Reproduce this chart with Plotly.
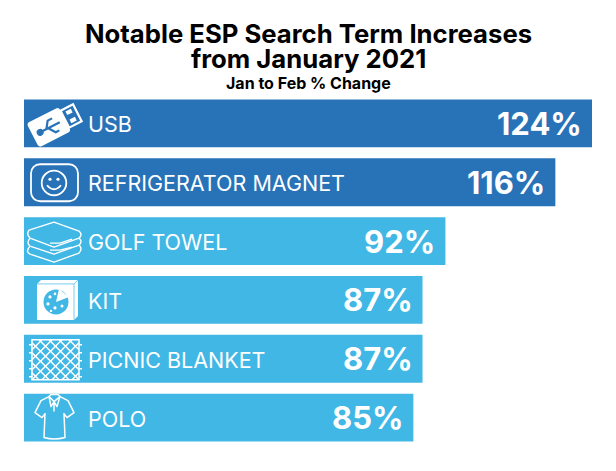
import base64
import plotly.graph_objects as go

terms = ["USB", "REFRIGERATOR MAGNET", "GOLF TOWEL", "KIT", "PICNIC BLANKET", "POLO"]
changes = [124, 116, 92, 87, 87, 85]
bar_colors = ["#2873B8", "#2873B8", "#40B7E4", "#40B7E4", "#40B7E4", "#40B7E4"]
title_lines = ["Notable ESP Search Term Increases", "from January 2021"]
subtitle = "Jan to Feb % Change"

FONT = "Inter"

# small white pictograms, 60x48 box sitting on the left of each bar
usb = """<g transform="rotate(-27 31.5 24.5)"><rect x="6" y="11" width="36" height="27" rx="3" fill="#fff"/>
<rect x="42" y="15" width="14" height="19" fill="none" stroke="#fff" stroke-width="2.2"/>
<rect x="46" y="18" width="6" height="4" fill="#fff"/><rect x="46" y="27" width="6" height="4" fill="#fff"/>
<path d="M12 25H36M21 25L26 18H31M23 25L28 32H32" fill="none" stroke="#2873B8" stroke-width="2.2"/>
<circle cx="14" cy="25" r="3.5" fill="#2873B8"/></g>"""
magnet = """<rect x="7" y="6" width="47" height="37" rx="9" fill="none" stroke="#fff" stroke-width="1.8"/>
<circle cx="30" cy="24.7" r="12.3" fill="none" stroke="#fff" stroke-width="1.8"/>
<circle cx="26" cy="21" r="1.6" fill="#fff"/><circle cx="34" cy="21" r="1.6" fill="#fff"/>
<path d="M23 27Q30 35 37 27" fill="none" stroke="#fff" stroke-width="1.8"/>"""
towel = """<g fill="none" stroke="#fff" stroke-width="1.4" stroke-linejoin="round">
<path d="M5 13L30 5L55 14Q59 18 55 21L30 30L6 21Q2 17 5 13Z"/>
<path d="M6 21Q2 26 6 29L30 37L55 28Q59 25 55 21"/>
<path d="M6 29Q1 35 6 37L30 45L55 36Q59 32 55 28"/>
<path d="M26 26H36L48 22M26 33H36L48 30"/></g>"""
kit = """<path d="M13 8L17 4H54V40L50 44H13Z" fill="#fff"/>
<path d="M50 8V44M13 8H50L54 4" stroke="#40B7E4" stroke-width="0.7" fill="none"/>
<circle cx="32" cy="26" r="12.5" fill="#40B7E4"/>
<path d="M32 26L35 13L45 21Z" fill="#fff"/>
<g fill="#fff"><circle cx="26" cy="21" r="1.6"/><circle cx="31" cy="18" r="1.3"/><circle cx="24" cy="28" r="1.6"/>
<circle cx="31" cy="32" r="1.6"/><circle cx="38" cy="30" r="1.5"/><circle cx="27" cy="35" r="1.2"/></g>"""
blanket = """<g fill="none" stroke="#fff" stroke-width="1.5"><rect x="8" y="5" width="47" height="40"/>
<path d="M8 15L18 5M8 25L28 5M8 35L38 5M8 45L48 5M18 45L55 8M28 45L55 18M38 45L55 28M48 45L55 38"/>
<path d="M55 15L45 5M55 25L35 5M55 35L25 5M55 45L15 5M45 45L8 8M35 45L8 18M25 45L8 28M15 45L8 38"/>
<path d="M5 10H8M5 18H8M5 26H8M5 34H8M5 42H8M55 10H58M55 18H58M55 26H58M55 34H58M55 42H58"/></g>"""
polo = """<g fill="none" stroke="#fff" stroke-width="1.5" stroke-linejoin="round">
<path d="M25 3L17 7L11 19L18 24L21 20L20 44Q30 47 41 44L40 20L43 24L50 19L44 7L36 3"/>
<path d="M25 3L30 8L36 3L34 1H27ZM25 3L27 13L30 8L33 13L36 3M30 8V18"/></g>"""
icons = [usb, magnet, towel, kit, blanket, polo]


def icon_uri(body):
    svg = f'<svg xmlns="http://www.w3.org/2000/svg" viewBox="0 0 60 48" width="240" height="192">{body}</svg>'
    return "data:image/svg+xml;base64," + base64.b64encode(svg.encode()).decode()


fig = go.Figure(go.Bar(
    x=changes, y=terms, orientation="h",
    marker=dict(color=bar_colors, line_width=0),
    hoverinfo="skip",
))

for term, change, icon in zip(terms, changes, icons):
    fig.add_annotation(x=0, y=term, text=term, xanchor="left", xshift=62, yshift=-1, showarrow=False,
                       font=dict(family=FONT, size=21.5, color="white"))
    fig.add_annotation(x=change, y=term, text=f"<b>{change}%</b>", xanchor="right", xshift=-8, showarrow=False,
                       font=dict(family=FONT, size=31, color="white"))
    fig.add_layout_image(source=icon_uri(icon), xref="x", yref="y", x=0, y=term, sizex=60 * 124 / 568, sizey=1,
                         xanchor="left", yanchor="middle", sizing="contain", layer="above")

# title lines are closer together than plotly's <br> spacing, so one annotation per line
for line, shift in zip(title_lines, [60.5, 35.5]):
    fig.add_annotation(xref="paper", yref="paper", x=0.5009, y=1, yshift=shift, yanchor="middle", xanchor="center",
                       text=f"<b>{line}</b>", showarrow=False, font=dict(family=FONT, size=25.7, color="black"))
fig.add_annotation(xref="paper", yref="paper", x=0.5009, y=1, yshift=11.5, yanchor="middle", xanchor="center",
                   text=f"<b>{subtitle}</b>", showarrow=False, font=dict(family=FONT, size=16, color="black"))

fig.update_xaxes(range=[0, 124], visible=False, fixedrange=True)
fig.update_yaxes(autorange="reversed", visible=False, fixedrange=True)
# page body has an 8px margin, figure is sized to fit inside the window
fig.update_layout(width=600, height=455, margin=dict(l=16, r=16, t=85.5, b=15.5, autoexpand=False),
                  bargap=0.186, paper_bgcolor="white", plot_bgcolor="white", showlegend=False)
fig.write_html("out.html", config={"displayModeBar": False})
